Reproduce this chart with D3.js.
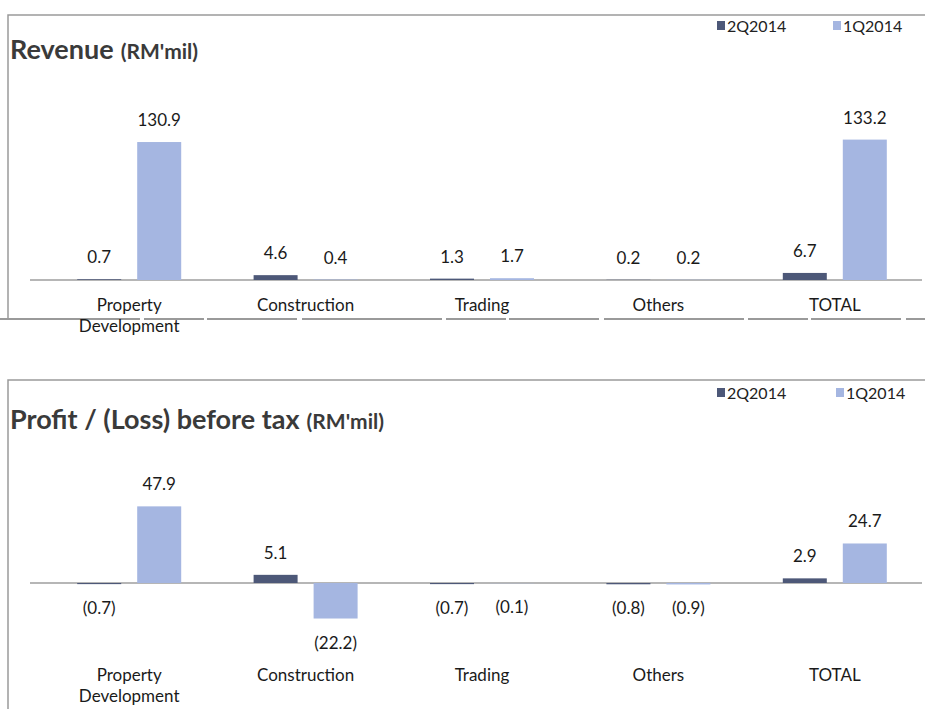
<!DOCTYPE html>
<html>
<head>
<meta charset="utf-8">
<script src="https://cdn.jsdelivr.net/npm/d3@7"></script>
<style>
  html, body { margin: 0; padding: 0; background: #fff; }
  svg { display: block; font-family: Lato, "Open Sans", sans-serif; }
</style>
</head>
<body>
<svg id="chart" width="925" height="709"></svg>
<script>
// Segment categories and reporting quarters
const categories = [["Property", "Development"], ["Construction"], ["Trading"], ["Others"], ["TOTAL"]];
const quarters = ["2Q2014", "1Q2014"];

// Revenue (RM'mil) per segment
const revenue2Q = [0.7, 4.6, 1.3, 0.2, 6.7];
const revenue1Q = [130.9, 0.4, 1.7, 0.2, 133.2];

// Profit / (Loss) before tax (RM'mil) per segment
const profit2Q = [-0.7, 5.1, -0.7, -0.8, 2.9];
const profit1Q = [47.9, -22.2, -0.1, -0.9, 24.7];

const colors = { "2Q2014": "#4d5878", "1Q2014": "#a5b6e1" };

const svg = d3.select("#chart");

// negative figures are shown in brackets
function fmt(v) {
  const s = Math.abs(v).toFixed(1);
  return v < 0 ? "(" + s + ")" : s;
}

function drawPanel(opt) {
  const g = svg.append("g");

  // frame of the panel
  g.append("path")
    .attr("d", `M${opt.frameLeft},${opt.frameBottom} V${opt.frameTop} H925`)
    .attr("fill", "none").attr("stroke", "#9a9a9a").attr("stroke-width", 1.5);
  if (opt.bottomRule) {
    g.append("line")
      .attr("x1", 0).attr("x2", 925)
      .attr("y1", opt.bottomRule).attr("y2", opt.bottomRule)
      .attr("stroke", "#7a7a7a").attr("stroke-width", 1.5)
      .attr("stroke-dasharray", "140 4 60 3 90 5");
  }

  // title
  const title = g.append("text")
    .attr("x", 10).attr("y", opt.titleY)
    .attr("fill", "#3a3a3a").attr("font-weight", 700);
  title.append("tspan").attr("font-size", 27).text(opt.title);
  title.append("tspan").attr("font-size", 21).attr("dx", 7).text("(RM'mil)");

  // legend
  const leg = g.selectAll("g.leg").data(quarters).join("g")
    .attr("transform", (d, i) => `translate(${opt.legendX[i]},${opt.legendY})`);
  leg.append("rect").attr("x", 0).attr("y", -11).attr("width", 8).attr("height", 9)
    .attr("fill", d => colors[d]);
  leg.append("text").attr("x", 10).attr("y", 0)
    .attr("font-size", 16).attr("fill", "#222").text(d => d);

  const x0 = d3.scaleBand().domain(d3.range(categories.length)).range([41, 923]).paddingInner(0);
  const half = x0.bandwidth() / 2;
  const x1 = d3.scaleBand().domain(quarters).range([half - 52, half + 52]).paddingInner(0.2667);
  const y = d3.scaleLinear().domain(opt.yDomain).range(opt.yRange);

  // axis line at zero
  g.append("line")
    .attr("x1", 30).attr("x2", 922)
    .attr("y1", y(0)).attr("y2", y(0))
    .attr("stroke", "#6e6e6e").attr("stroke-width", 1.2);

  const rows = categories.map((c, i) => ({
    i,
    vals: [{ q: quarters[0], v: opt.s2Q[i] }, { q: quarters[1], v: opt.s1Q[i] }]
  }));

  const cat = g.selectAll("g.cat").data(rows).join("g")
    .attr("transform", d => `translate(${x0(d.i)},0)`);

  cat.selectAll("rect").data(d => d.vals).join("rect")
    .attr("x", d => x1(d.q))
    .attr("width", x1.bandwidth())
    .attr("y", d => Math.min(y(d.v), y(0)))
    .attr("height", d => Math.abs(y(d.v) - y(0)))
    .attr("fill", d => colors[d.q]);

  cat.selectAll("text.val").data(d => d.vals).join("text")
    .attr("class", "val")
    .attr("x", d => x1(d.q) + x1.bandwidth() / 2)
    .attr("y", d => d.v >= 0 ? y(d.v) - 16 : y(d.v) + 30)
    .attr("text-anchor", "middle").attr("font-size", 17).attr("fill", "#1a1a1a")
    .text(d => fmt(d.v));

  // category labels
  const lab = g.selectAll("text.cat").data(categories).join("text")
    .attr("class", "cat")
    .attr("x", (d, i) => x0(i) + half)
    .attr("y", opt.catY)
    .attr("text-anchor", "middle").attr("font-size", 17).attr("fill", "#1a1a1a");
  lab.selectAll("tspan").data(d => d).join("tspan")
    .attr("x", function () { return this.parentNode.getAttribute("x"); })
    .attr("dy", (d, i) => i === 0 ? 0 : 21)
    .text(d => d);
}

drawPanel({
  title: "Revenue",
  titleY: 59,
  frameLeft: 8, frameTop: 15, frameBottom: 318,
  bottomRule: 319,
  legendX: [717, 833], legendY: 32,
  yDomain: [0, 140], yRange: [280, 280 - 140 * 1.054],
  s2Q: revenue2Q, s1Q: revenue1Q,
  catY: 311
});

drawPanel({
  title: "Profit / (Loss) before tax",
  titleY: 429,
  frameLeft: 8, frameTop: 380, frameBottom: 709,
  bottomRule: null,
  legendX: [717, 836], legendY: 399,
  yDomain: [-30, 50], yRange: [583 + 30 * 1.6, 583 - 50 * 1.6],
  s2Q: profit2Q, s1Q: profit1Q,
  catY: 681
});
</script>
</body>
</html>
